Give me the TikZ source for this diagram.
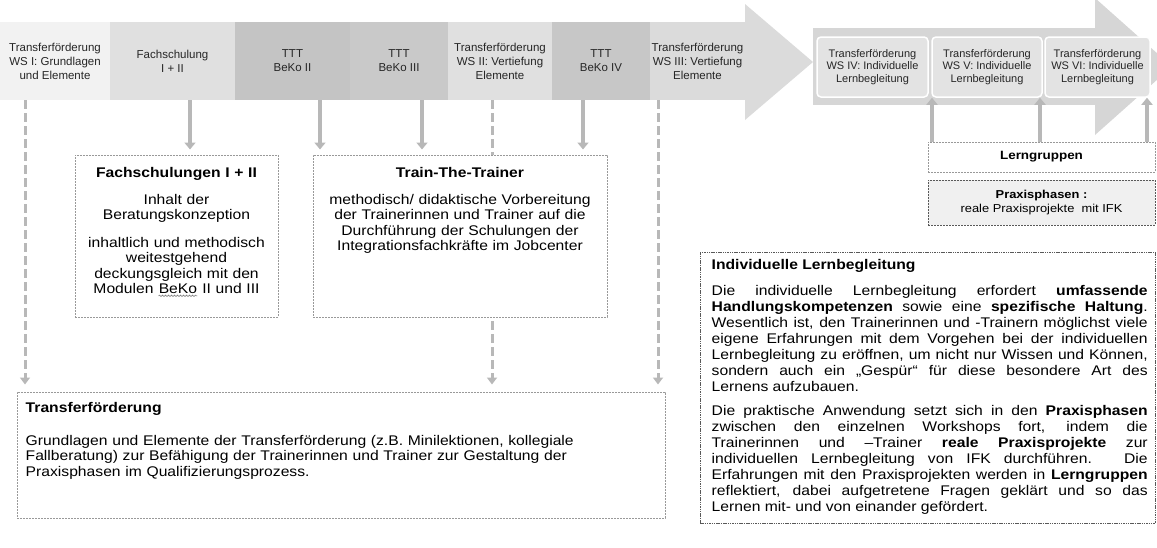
\documentclass[tikz,border=0pt]{standalone}
\usepackage{fontspec}
\setmainfont{Liberation Sans}[FakeStretch=1.12]
\newfontfamily\lblfont{Liberation Sans}
\usetikzlibrary{arrows.meta,decorations.pathmorphing}
\pgfdeclarelayer{bg}
\pgfsetlayers{bg,main}
\definecolor{sA}{gray}{0.95}
\definecolor{sB}{gray}{0.88}
\definecolor{sC}{gray}{0.77}
\definecolor{sD}{gray}{0.79}
\definecolor{sE}{gray}{0.88}
\definecolor{sF}{gray}{0.78}
\definecolor{sG}{gray}{0.86}
\definecolor{bandtwo}{gray}{0.84}
\definecolor{wsfill}{gray}{0.89}
\definecolor{conn}{gray}{0.72}
\definecolor{boxline}{gray}{0.60}
\newcommand{\wavyword}[1]{\tikz[baseline=(ww.base)]{\node[inner sep=0pt] (ww) {#1};\draw[gray, line width=0.6pt, decorate, decoration={snake, amplitude=0.7pt, segment length=3pt}] ([yshift=-2pt]ww.base west) -- ([yshift=-2pt]ww.base east);}}
\begin{document}
\begin{tikzpicture}[x=1pt,y=-1pt,
  seg/.style={rectangle, inner sep=0pt, minimum height=78pt, align=center, text=black!85, font=\lblfont\fontsize{11.5}{14}\selectfont},
  wsbox/.style={rectangle, rounded corners=4pt, fill=wsfill, draw=white, line width=1.5pt, minimum height=60pt, inner sep=0pt, align=center, text=black!85, font=\lblfont\fontsize{11}{12.5}\selectfont},
  panel/.style={rectangle, draw=boxline, line width=1pt, dash pattern=on 2pt off 1pt, fill=white, inner sep=0pt},
  panelbody/.style={inner sep=0pt, font=\fontsize{14}{15.5}\selectfont, align=center},
  uparrow/.style={draw=conn, line width=3.5pt, -{Triangle[width=11pt,length=7pt]}},
  shortarrow/.style={uparrow, shorten >=5pt},
  dasharrow/.style={draw=conn, line width=3pt, dash pattern=on 9pt off 4pt, shorten >=7pt, -{Triangle[width=10pt,length=7pt]}},
]
\useasboundingbox (0,0) rectangle (1157,547);

% second big arrow (background)
\fill[bandtwo] (813,28) rectangle (1096,105);
\fill[bandtwo] (1095,-2) -- (1172,66.5) -- (1095,135) -- cycle;

% first big arrow: segments
\node[seg, fill=sA, minimum width=110pt] (s1) at (55,61) {Transferförderung\\WS I: Grundlagen\\und Elemente};
\node[seg, fill=sB, minimum width=125pt] (s2) at (172.5,61) {Fachschulung\\I + II};
\node[seg, fill=sC, minimum width=115pt] (s3) at (292.5,61) {TTT\\BeKo II};
\node[seg, fill=sD, minimum width=98pt] (s4) at (399,61) {TTT\\BeKo III};
\node[seg, fill=sE, minimum width=104pt] (s5) at (500,61) {Transferförderung\\WS II: Vertiefung\\Elemente};
\node[seg, fill=sF, minimum width=98pt] (s6) at (601,61) {TTT\\BeKo IV};
\node[seg, fill=sG, minimum width=96pt] (s7) at (697.5,61) {Transferförderung\\WS III: Vertiefung\\Elemente};
\fill[sG] (745,4) -- (813,62) -- (745,120) -- cycle;

% workshop boxes on the second arrow
\node[wsbox, minimum width=111pt] (w1) at (872.5,67) {Transferförderung\\WS IV: Individuelle\\Lernbegleitung};
\node[wsbox, minimum width=110pt] (w2) at (987,67) {Transferförderung\\WS V: Individuelle\\Lernbegleitung};
\node[wsbox, minimum width=105pt] (w3) at (1097.5,67) {Transferförderung\\WS VI: Individuelle\\Lernbegleitung};

% panels
\node[panel, minimum width=203pt, minimum height=162pt] (fa) at (176.5,236) {};
\node[panel, minimum width=294pt, minimum height=162pt] (tt) at (460,236) {};
\node[panel, minimum width=648pt, minimum height=126pt] (tf) at (341,455) {};
\node[panel, draw=black!65, dash pattern=on 1.5pt off 0.8pt, minimum width=455pt, minimum height=271pt] (il) at (927.5,387.5) {};
\node[panel, minimum width=227pt, minimum height=30pt] (lg) at (1041.5,157) {};
\node[panel, fill=gray!12, draw=black!65, dash pattern=on 2pt off 1pt, minimum width=227pt, minimum height=45pt] (px) at (1041.5,202.5) {};

% connectors behind the panels
\begin{pgfonlayer}{bg}
\draw[dasharrow] ([xshift=-30pt]s1.south) -- ([xshift=-30pt]s1.south |- tf.north);
\draw[dasharrow] ([xshift=-8pt]s5.south) -- ([xshift=-8pt]s5.south |- tf.north);
\draw[dasharrow] ([xshift=-39.5pt]s7.south) -- ([xshift=-39.5pt]s7.south |- tf.north);
\draw[shortarrow] ([xshift=17.5pt]s2.south) -- ([xshift=17.5pt]s2.south |- fa.north);
\draw[shortarrow] ([xshift=27.5pt]s3.south) -- ([xshift=27.5pt]s3.south |- tt.north);
\draw[shortarrow] ([xshift=23pt]s4.south) -- ([xshift=23pt]s4.south |- tt.north);
\draw[shortarrow] ([xshift=-18pt]s6.south) -- ([xshift=-18pt]s6.south |- tt.north);
\end{pgfonlayer}

% up arrows from Lerngruppen
\draw[uparrow] ([xshift=-109.5pt]lg.north) -- ([xshift=-109.5pt]lg.north |- w1.south);
\draw[uparrow] ([xshift=-1.5pt]lg.north) -- ([xshift=-1.5pt]lg.north |- w2.south);
\draw[uparrow] ([xshift=105.5pt]lg.north) -- ([xshift=105.5pt]lg.north |- w3.south);

% panel texts
\node[panelbody, anchor=north, text width=200pt] (fat) at ([yshift=-13pt]fa.north)
  {{\bfseries Fachschulungen I + II}\\[11pt]
   Inhalt der\\Beratungskonzeption\\[12pt]
   inhaltlich und methodisch\\weitestgehend\\deckungsgleich mit den\\Modulen \wavyword{BeKo} II und III};

\node[panelbody, anchor=north, text width=290pt] (ttt) at ([yshift=-13pt]tt.north)
  {{\bfseries Train-The-Trainer}\\[11pt]
   methodisch/ didaktische Vorbereitung\\der Trainerinnen und Trainer auf die\\Durchführung der  Schulungen der\\Integrationsfachkräfte im Jobcenter};

\node[panelbody, align=left, anchor=north west, text width=630pt] (tft) at ([xshift=9pt,yshift=-11pt]tf.north west)
  {{\bfseries Transferförderung}\\[17pt]
   Grundlagen und Elemente der Transferförderung (z.B. Minilektionen, kollegiale\\
   Fallberatung) zur Befähigung der Trainerinnen und Trainer zur Gestaltung der\\
   Praxisphasen im Qualifizierungsprozess.};

\node[inner sep=0pt, anchor=north west, text width=436pt, align=justify, font=\fontsize{14}{16}\selectfont] (ilt) at ([xshift=12pt,yshift=-8pt]il.north west)
  {\textbf{Individuelle Lernbegleitung}\par\vspace{10pt}
   Die individuelle Lernbegleitung erfordert \textbf{umfassende}\linebreak
   \textbf{Handlungskompetenzen} sowie eine \textbf{spezifische Haltung}.\linebreak
   Wesentlich ist, den Trainerinnen und -Trainern möglichst viele\linebreak
   eigene Erfahrungen mit dem Vorgehen bei der individuellen\linebreak
   Lernbegleitung zu eröffnen, um nicht nur Wissen und Können,\linebreak
   sondern auch ein „Gespür“ für diese besondere Art des\linebreak
   Lernens aufzubauen.\par\vspace{8pt}
   Die praktische Anwendung setzt sich in den \textbf{Praxisphasen}\linebreak
   zwischen den einzelnen Workshops fort, indem die\linebreak
   Trainerinnen und –Trainer \textbf{reale Praxisprojekte} zur\linebreak
   individuellen Lernbegleitung von IFK durchführen. Die\linebreak
   Erfahrungen mit den Praxisprojekten werden in \textbf{Lerngruppen}\linebreak
   reflektiert, dabei aufgetretene Fragen geklärt und so das\linebreak
   Lernen mit- und von einander gefördert.};

\node[inner sep=0pt, font=\bfseries\fontsize{12}{14}\selectfont] (lgt) at (lg.center) {Lerngruppen};
\node[inner sep=0pt, align=center, font=\fontsize{11.5}{14}\selectfont] (pxt) at (px.center) {\textbf{Praxisphasen :}\\reale Praxisprojekte\ \ mit IFK};
\end{tikzpicture}
\end{document}
